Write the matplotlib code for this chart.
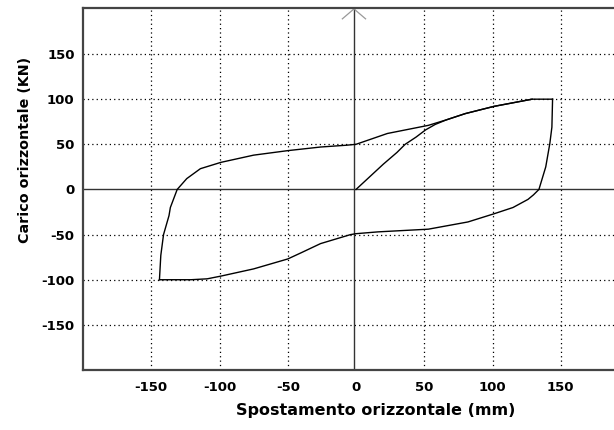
import matplotlib
matplotlib.use("Agg")
import matplotlib.pyplot as plt

# Horizontal displacement (mm) and horizontal load (kN) of the hysteresis cycle
virgin_x = [0, 10, 20, 30, 36, 44, 51, 58, 66, 80, 101, 115, 129, 144]
virgin_y = [0, 14, 28, 41, 50, 58, 66, 72, 77, 84, 92, 96, 100, 100]

unload_x = [144, 143.5, 142, 139, 134, 130, 126, 115, 101, 82, 53, 16, 0,
            -4, -26, -40, -50, -75, -99, -109, -121, -144]
unload_y = [100, 69, 51, 25, 0, -6, -11, -20, -27, -36, -44, -47, -49,
            -50, -60, -70, -77, -88, -96, -99, -100, -100]

reload_x = [-144, -143, -141, -137, -136, -131, -124, -114, -99, -75, -50,
            -26, -7, 0, 23, 53, 66, 80, 101, 115, 129]
reload_y = [-100, -73, -50, -29, -20, 0, 12, 23, 30, 38, 43, 47, 49, 50,
            62, 71, 77, 84, 92, 96, 100]

x_ticks = [-150, -100, -50, 0, 50, 100, 150]
y_ticks = [-150, -100, -50, 0, 50, 100, 150]

fig = plt.figure(figsize=(6.14, 4.30), dpi=100)
ax = fig.add_axes([83 / 614, 60 / 430, 1 - 83 / 614, 362 / 430])
ax.set_xlim(-200, 189)
ax.set_ylim(-200, 201)

# dotted grid (skip the zero lines, drawn solid below)
for gx in x_ticks:
    if gx != 0:
        ax.axvline(gx, color="black", lw=0.9, ls=(0, (1, 2.5)), zorder=1)
for gy in y_ticks:
    if gy != 0:
        ax.axhline(gy, color="black", lw=0.9, ls=(0, (1, 2.5)), zorder=1)

ax.axhline(0, color="#333333", lw=1.0, zorder=2)
ax.axvline(-1.5, color="#333333", lw=1.0, zorder=2)
# open arrowhead on top of the vertical axis
ax.plot([-10, -1.5, 7], [189, 200, 189], color="#999999", lw=0.9,
        zorder=2, clip_on=False)

for xs, ys in [(virgin_x, virgin_y), (unload_x, unload_y), (reload_x, reload_y)]:
    ax.plot(xs, ys, color="black", lw=1.0, zorder=3)

ax.spines["right"].set_visible(False)
for side in ["left", "top", "bottom"]:
    ax.spines[side].set_color("#444444")
    ax.spines[side].set_linewidth(1.6)

ax.set_xticks(x_ticks)
ax.set_yticks(y_ticks)
ax.set_xticklabels([str(t) for t in x_ticks])
ax.set_yticklabels([str(t) for t in y_ticks])
ax.tick_params(length=0, labelsize=9.5)
ax.tick_params(axis="x", pad=8)
ax.tick_params(axis="y", pad=6)
for lab in ax.get_xticklabels() + ax.get_yticklabels():
    lab.set_fontweight("bold")

fig.text(376 / 614, 1 - 410 / 430, "Spostamento orizzontale (mm)",
         ha="center", va="center", fontsize=11.5, fontweight="bold")
fig.text(25 / 614, 1 - 150 / 430, "Carico orizzontale (KN)",
         ha="center", va="center", rotation=90, fontsize=10.3, fontweight="bold")

fig.savefig("out.png", dpi=100)
